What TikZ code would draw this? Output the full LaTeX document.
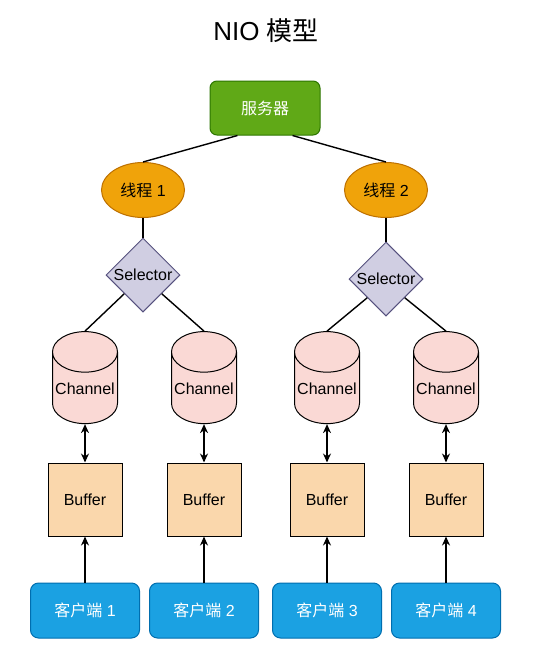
\documentclass[tikz,border=0pt]{standalone}
\usepackage{fontspec}
\setmainfont{Liberation Sans}
\newfontfamily\cjk{Noto Sans CJK SC}
\usetikzlibrary{arrows.meta,positioning,shapes.geometric}
\definecolor{srvgreen}{HTML}{60A917}
\definecolor{srvline}{HTML}{2D7600}
\definecolor{throrange}{HTML}{F0A30A}
\definecolor{thrline}{HTML}{BD7000}
\definecolor{selpurple}{HTML}{D0CEE2}
\definecolor{selline}{HTML}{56517E}
\definecolor{chanpink}{HTML}{FAD9D5}
\definecolor{bufpeach}{HTML}{FAD7AC}
\definecolor{cliblue}{HTML}{1BA1E2}
\definecolor{cliline}{HTML}{006EAF}

\begin{document}
\begin{tikzpicture}[x=1pt,y=-1pt,
    font=\fontsize{16}{18}\selectfont,
    every node/.style={line width=1pt},
    srvbox/.style={draw=srvline,fill=srvgreen,rounded corners=7pt,minimum width=110pt,minimum height=54pt,text=white},
    thread/.style={ellipse,draw=thrline,fill=throrange,minimum width=83pt,minimum height=55pt,inner sep=0pt},
    selbox/.style={diamond,draw=selline,fill=selpurple,minimum width=74pt,minimum height=74pt,inner sep=0pt},
    chan/.style={cylinder,shape border rotate=90,aspect=0.68,draw=black,fill=chanpink,minimum width=65pt,minimum height=92pt,inner sep=0pt},
    bufbox/.style={draw=black,fill=bufpeach,minimum width=74pt,minimum height=73pt},
    client/.style={draw=cliline,fill=cliblue,rounded corners=8pt,minimum width=109pt,minimum height=55pt,text=white},
    conn/.style={line width=1.4pt},
    arrowline/.style={line width=1.4pt,-{Stealth[length=9pt,width=8pt]}}]
    \fill[white] (0,0) rectangle (533,648);
    \node[font=\fontsize{26}{30}\selectfont] (title) at (266,31) {NIO {\cjk 模型}};
    \node[srvbox] (srv) at (265,108) {\cjk 服务器};
    \node[thread] (th1) at (143,190) {{\cjk 线程} 1};
    \node[thread] (th2) at (386,190) {{\cjk 线程} 2};
    \node[selbox] (sel1) at (143,275) {Selector};
    \node[selbox] (sel2) at (386,279) {Selector};
    \foreach \i/\x in {1/85,2/204,3/327,4/446}{
      \node[chan,label={[yshift=-1pt]center:Channel}] (ch\i) at (\x,388) {\phantom{Channel}};
      \node[bufbox] (buf\i) at (\x,499.5) {Buffer};
      \node[client] (cl\i) at (\x,610.5) {{\cjk 客户端} \i};
      \draw[arrowline,{Stealth[length=9pt,width=8pt]}-{Stealth[length=9pt,width=8pt]}] (ch\i.south) -- (buf\i.north);
      \draw[arrowline] (cl\i.north) -- (buf\i.south);
    }
    % links from the server down to the channels
    \draw[conn] (srv.-135) -- (th1.north);
    \draw[conn] (srv.-45) -- (th2.north);
    \draw[conn] (th1.south) -- (sel1.north);
    \draw[conn] (th2.south) -- (sel2.north);
    \draw[conn] (sel1.-135) -- (ch1.north);
    \draw[conn] (sel1.-45) -- (ch2.north);
    \draw[conn] (sel2.-135) -- (ch3.north);
    \draw[conn] (sel2.-45) -- (ch4.north);
  \end{tikzpicture}
\end{document}
